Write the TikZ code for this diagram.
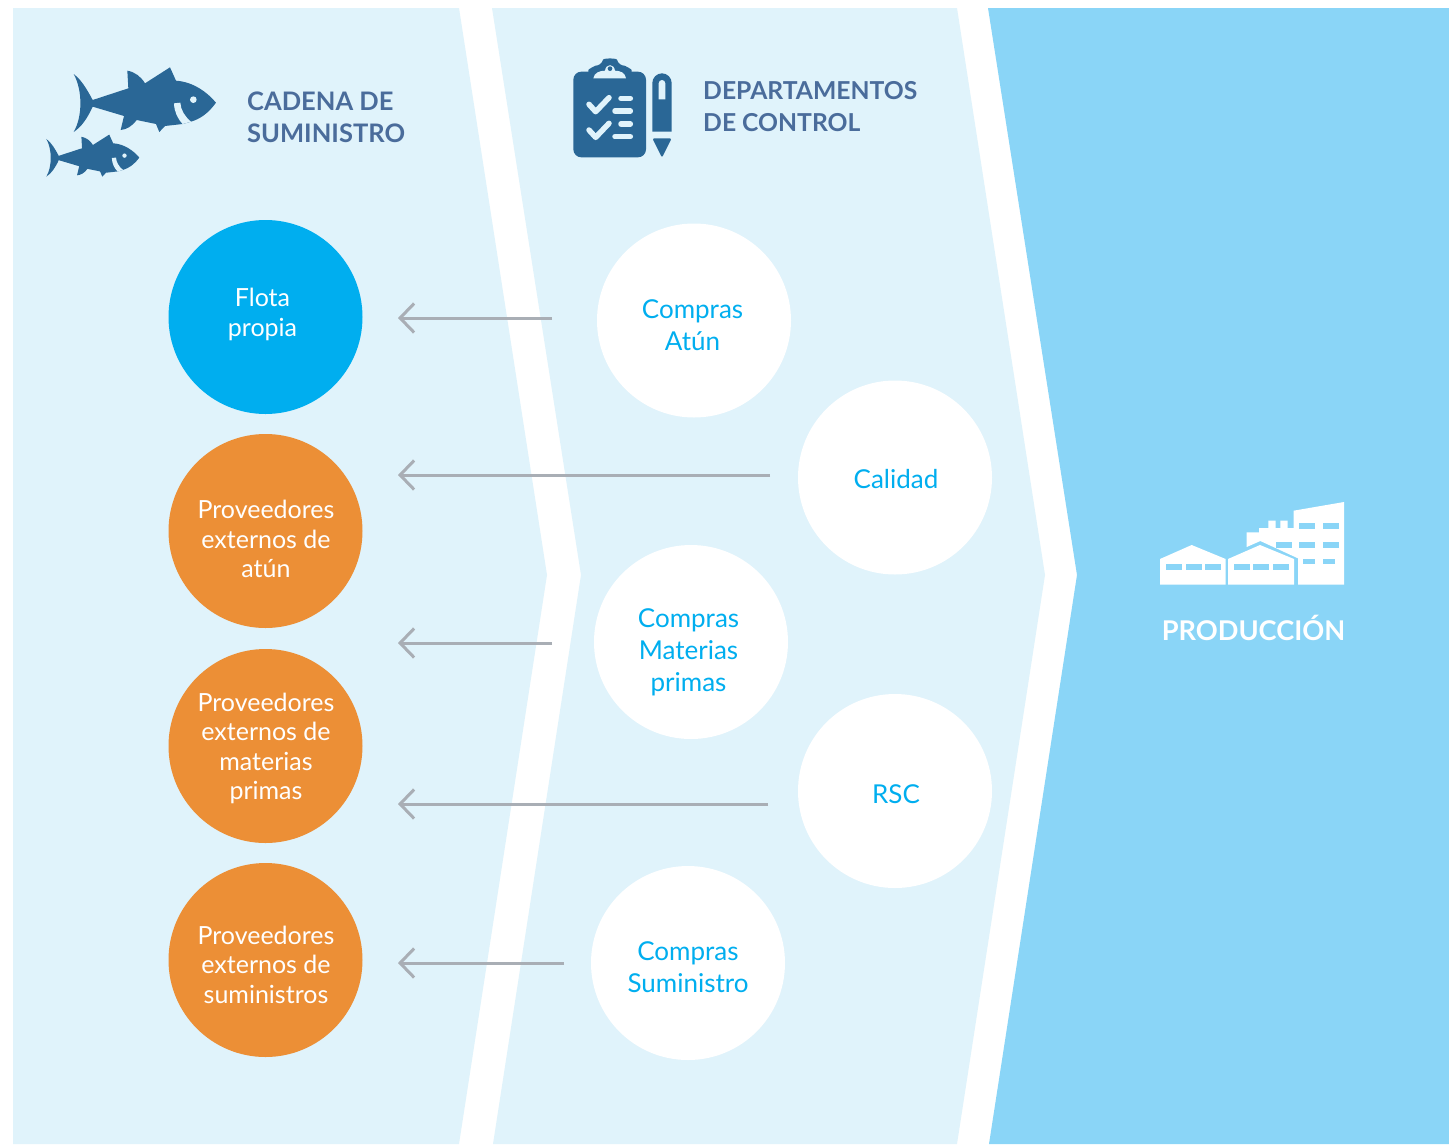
\documentclass[tikz,border=0pt]{standalone}
\usepackage{fontspec}
\setmainfont{Lato}
\usetikzlibrary{arrows.meta}
\definecolor{paleblue}{HTML}{E0F3FB}
\definecolor{midblue}{HTML}{8AD5F7}
\definecolor{cyanb}{HTML}{00AEEF}
\definecolor{orangeb}{HTML}{EC8F36}
\definecolor{darkb}{HTML}{2A6796}
\definecolor{titleb}{HTML}{4A6C9B}
\definecolor{arrowg}{HTML}{A9AEB5}
\tikzset{
  x=1pt,y=-1pt,
  disc/.style={circle,minimum size=194pt,inner sep=0pt,draw=none},
  lab/.style={align=center,inner sep=0pt,font=\fontsize{25}{29.5}\selectfont},
  labr/.style={align=center,inner sep=0pt,text=cyanb,font=\fontsize{26}{32}\selectfont},
  headtxt/.style={align=left,anchor=west,inner sep=0pt,text=titleb,font=\fontsize{25}{32}\selectfont\bfseries},
  flow/.style={draw=arrowg,line width=3pt,-{Straight Barb[length=14pt,width=29pt,line width=3pt]}},
  icon/.style={fill=darkb,draw=none},
  iconline/.style={draw=paleblue,line cap=round,line join=round},
}
\newcommand{\fishshape}{%
  \fill[darkb] (131,72) .. controls (155,90) and (172,120) .. (188,150)
    -- (295,115) -- (292,62) .. controls (315,66) and (333,80) .. (345,100)
    -- (420,52) -- (438,92) .. controls (490,96) and (530,125) .. (558,158)
    .. controls (535,190) and (510,207) .. (483,215) -- (458,222) -- (405,228)
    -- (388,246) -- (378,222) -- (320,210) .. controls (305,230) and (290,238) .. (272,240)
    -- (282,198) -- (188,170) .. controls (172,205) and (155,230) .. (131,246)
    .. controls (158,200) and (158,120) .. (131,72) -- cycle;
  \fill[paleblue] (432,160) -- (451,158) .. controls (452,180) and (465,200) .. (483,215)
    -- (458,222) .. controls (442,205) and (433,185) .. (432,160) -- cycle;
  \fill[paleblue] (490,149) circle (10);
}
\begin{document}
\begin{tikzpicture}
\useasboundingbox (0,0) rectangle (1449,1144);
\fill[white] (0,0) rectangle (1449,1144);
% panels
\fill[paleblue] (13,8) -- (459,8) -- (547,575) -- (459,1144) -- (13,1144) -- cycle;
\fill[paleblue] (492,8) -- (957,8) -- (1045,575) -- (957,1144) -- (493,1144) -- (581,575) -- cycle;
\fill[midblue] (988,8) -- (1449,8) -- (1449,1144) -- (989,1144) -- (1077,575) -- cycle;

% fish icons
\begin{scope}[shift={(30,50)},xscale=1/3,yscale=1/3]
  \fishshape
  \begin{scope}[shift={(-36.5,220)},xscale=0.653,yscale=0.65]
    \fishshape
  \end{scope}
\end{scope}

% clipboard and pen
\begin{scope}[shift={(560,50)},xscale=1/3,yscale=1/3]
  \fill[icon,rounded corners=8pt] (40,65) rectangle (258,322);
  \fill[icon,rounded corners=6pt] (85,78) .. controls (85,58) and (105,47) .. (125,47)
     .. controls (130,24) and (170,24) .. (175,47) .. controls (195,47) and (215,58) .. (215,78) -- (215,100) -- (85,100) -- cycle;
  \fill[paleblue] (100,85) .. controls (102,68) and (120,62) .. (135,62)
     .. controls (138,40) and (162,40) .. (165,62) .. controls (180,62) and (196,68) .. (198,85) -- cycle;
  \fill[darkb] (150,56) circle (7);
  \draw[iconline,line width=5.5pt] (87,163) -- (107,185) -- (147,143);
  \draw[iconline,line width=5.5pt] (87,240) -- (107,262) -- (147,220);
  \draw[iconline,line width=5.5pt] (183,145) -- (211,145);
  \draw[iconline,line width=5.5pt] (165,183) -- (211,183);
  \draw[iconline,line width=5.5pt] (183,222) -- (211,222);
  \draw[iconline,line width=5.5pt] (165,260) -- (211,260);
  \fill[icon] (277,245) -- (277,99) arc[start angle=180,end angle=360,radius=29] -- (335,245) -- cycle;
  \fill[paleblue] (296,148) -- (296,100) arc[start angle=180,end angle=360,radius=10] -- (316,148) -- cycle;
  \fill[icon,rounded corners=1.5pt] (277,265) -- (335,265) -- (306,323) -- cycle;
\end{scope}

% factory
\begin{scope}[shift={(1150,490)},xscale=1/3,yscale=1/3]
  \fill[white] (30,284) -- (30,207) -- (125,165) -- (227,207) -- (227,284) -- cycle;
  \fill[white] (234,284) -- (234,207) -- (330,165) -- (432,207) -- (432,284) -- cycle;
  \fill[white] (290,171) -- (290,127) -- (327,127) -- (327,114) -- (355,114) -- (355,92)
    -- (377,92) -- (377,114) -- (391,114) -- (391,92) -- (413,92) -- (413,114) -- (431,114)
    -- (431,62) -- (582,36) -- (582,284) -- (444,284) -- (444,205) -- (331,153) -- cycle;
  \foreach \xa in {48,107,165,252,310,369} \fill[midblue] (\xa,223) rectangle +(48,16);
  \foreach \xa in {447,518} \fill[midblue] (\xa,100) rectangle +(49,16);
  \foreach \xa in {378,447,518} \fill[midblue] (\xa,155) rectangle +(49,18);
  \foreach \xa in {459,518} \fill[midblue] (\xa,206) rectangle +(37,15);
\end{scope}

% headings
\node[headtxt,font=\fontsize{25.5}{32}\selectfont\bfseries] (h1) at (247,117) {CADENA DE\\SUMINISTRO};
\node[headtxt,font=\fontsize{24.7}{32}\selectfont\bfseries] (h2) at (703,107) {DEPARTAMENTOS\\DE CONTROL};
\node[inner sep=0pt,text=white,font=\fontsize{27.2}{32}\selectfont\bfseries] (h3) at (1253.5,628) {PRODUCCIÓN};

% left discs
\node[disc,fill=cyanb] (flota) at (265.5,317) {};
\node[disc,fill=orangeb] (atun) at (265.5,531) {};
\node[disc,fill=orangeb] (mat) at (265.5,746) {};
\node[disc,fill=orangeb] (sum) at (265.5,960) {};
\node[lab,text=white] (tflota) at (262.5,314.5) {Flota\\propia};
\node[lab,text=white] (tatun) at (266,539) {Proveedores\\externos de\\atún};
\node[lab,text=white] (tmat) at (266,748.5) {Proveedores\\externos de\\materias\\primas};
\node[lab,text=white] (tsum) at (266,964.5) {Proveedores\\externos de\\suministros};

% right discs
\node[disc,fill=white] (catun) at (694,320.5) {};
\node[disc,fill=white] (cal) at (895,477.5) {};
\node[disc,fill=white] (cmat) at (691,642) {};
\node[disc,fill=white] (rsc) at (895,791) {};
\node[disc,fill=white] (csum) at (688,963) {};
\node[labr] (tcatun) at (692.5,325) {Compras\\Atún};
\node[labr] (tcal) at (896,479) {Calidad};
\node[labr] (tcmat) at (688.5,652) {Compras\\Materias\\primas};
\node[labr] (trsc) at (896,794) {RSC};
\node[labr] (tcsum) at (688,967) {Compras\\Suministro};

% arrow ends
\coordinate (s1) at (552,318);
\coordinate (e1) at (398,318);
\coordinate (s2) at (770,475);
\coordinate (e2) at (398,475);
\coordinate (s3) at (552,643);
\coordinate (e3) at (398,643);
\coordinate (s4) at (768,804);
\coordinate (e4) at (398,804);
\coordinate (s5) at (564,963);
\coordinate (e5) at (398,963);
\foreach \i in {1,...,5} \draw[flow] (s\i) -- (e\i);
\end{tikzpicture}
\end{document}
